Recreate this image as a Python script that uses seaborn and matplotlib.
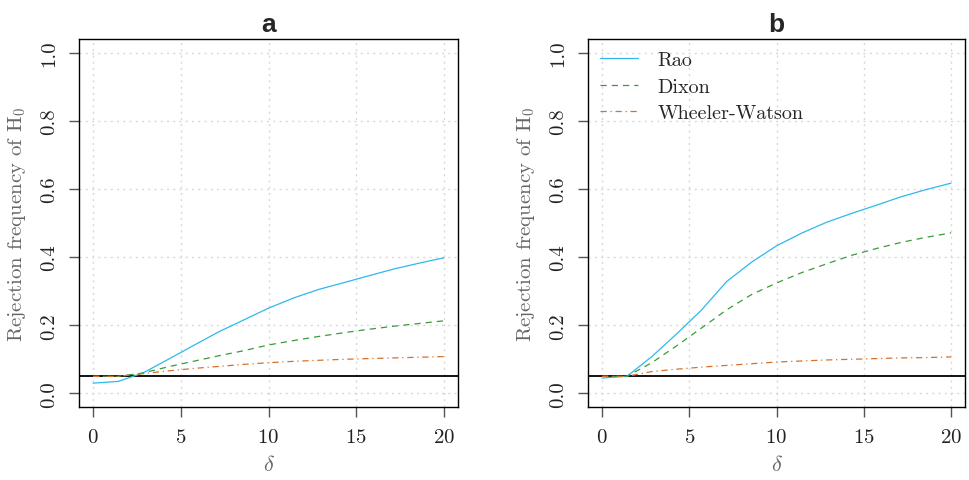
import numpy as np
import pandas as pd
import matplotlib
matplotlib.use("Agg")
import matplotlib.pyplot as plt
import seaborn as sns

# shift parameter grid
delta = [0, 1.43, 2.86, 4.29, 5.71, 7.14, 8.57, 10, 11.43, 12.86, 14.29, 15.71, 17.14, 18.57, 20]

# panel a: rejection frequencies
rao_a = [0.030, 0.035, 0.060, 0.100, 0.140, 0.180, 0.215, 0.250, 0.280, 0.305, 0.325, 0.345, 0.365, 0.382, 0.398]
dixon_a = [0.050, 0.050, 0.060, 0.078, 0.094, 0.110, 0.125, 0.142, 0.155, 0.167, 0.178, 0.188, 0.197, 0.205, 0.213]
ww_a = [0.050, 0.050, 0.058, 0.066, 0.073, 0.079, 0.085, 0.090, 0.094, 0.097, 0.100, 0.102, 0.104, 0.106, 0.108]

# panel b: rejection frequencies
rao_b = [0.045, 0.050, 0.108, 0.175, 0.245, 0.328, 0.385, 0.433, 0.470, 0.502, 0.528, 0.552, 0.577, 0.598, 0.617]
dixon_b = [0.050, 0.050, 0.090, 0.140, 0.192, 0.245, 0.290, 0.324, 0.354, 0.380, 0.405, 0.425, 0.443, 0.458, 0.471]
ww_b = [0.050, 0.050, 0.064, 0.071, 0.077, 0.082, 0.087, 0.092, 0.095, 0.098, 0.100, 0.102, 0.104, 0.105, 0.107]

nominal_level = 0.05
tests = ["Rao", "Dixon", "Wheeler-Watson"]
panels = ["a", "b"]

colors = {"Rao": "#2EB8EE", "Dixon": "#3C9A3C", "Wheeler-Watson": "#D7712A"}
dashes = {"Rao": "", "Dixon": (5, 4), "Wheeler-Watson": (5, 3, 1, 3)}

frames = []
for panel, series in zip(panels, [(rao_a, dixon_a, ww_a), (rao_b, dixon_b, ww_b)]):
    for test, vals in zip(tests, series):
        frames.append(pd.DataFrame({"delta": delta, "freq": vals, "test": test, "panel": panel}))
df = pd.concat(frames, ignore_index=True)

sns.set_style("white")
plt.rcParams["font.family"] = ["cmr10", "DejaVu Serif"]
plt.rcParams["mathtext.fontset"] = "cm"
plt.rcParams["axes.formatter.use_mathtext"] = True
plt.rcParams["axes.unicode_minus"] = False

fig = plt.figure(figsize=(9.69, 4.81), dpi=100)
boxes = [[0.0815, 0.1518, 0.3912, 0.7650], [0.6068, 0.1518, 0.3891, 0.7650]]

for panel, box in zip(panels, boxes):
    ax = fig.add_axes(box)
    sub = df[df["panel"] == panel]
    sns.lineplot(data=sub, x="delta", y="freq", hue="test", style="test",
                 palette=colors, dashes=dashes, hue_order=tests, style_order=tests,
                 linewidth=0.9, ax=ax, legend=(panel == "b"))
    ax.axhline(nominal_level, color="black", linewidth=1.3, zorder=1)
    ax.set_xlim(-0.8, 20.8)
    ax.set_ylim(-0.04, 1.04)
    ax.set_xticks([0, 5, 10, 15, 20])
    ax.set_yticks([0.0, 0.2, 0.4, 0.6, 0.8, 1.0])
    ax.set_yticklabels(["0.0", "0.2", "0.4", "0.6", "0.8", "1.0"], rotation=90, va="center")
    ax.grid(True, color="#d8d8d8", linestyle=(0, (1.5, 3)), linewidth=1.0)
    ax.set_axisbelow(True)
    for s in ax.spines.values():
        s.set_color("black")
        s.set_linewidth(1.0)
    ax.tick_params(axis="both", which="major", direction="out", length=7, width=1.0,
                   color="#555555", labelsize=15, labelcolor="#222222", pad=8, left=True, bottom=True)
    ax.set_xlabel(r"$\delta$", fontsize=16, color="#666666", labelpad=6)
    ax.set_ylabel(r"Rejection frequency of $\mathrm{H}_0$", fontsize=15, color="#666666", labelpad=9)
    ax.set_title(panel, fontsize=19, fontweight="bold", family="Liberation Sans", pad=6)
    if panel == "b":
        leg = ax.legend(loc="upper left", frameon=False, fontsize=14.5, handlelength=1.9,
                        handletextpad=0.95, labelspacing=0.42, borderaxespad=0.2,
                        bbox_to_anchor=(0.0, 1.0))
        for line in leg.get_lines():
            line.set_linewidth(0.9)

fig.savefig("out.png", dpi=100)
